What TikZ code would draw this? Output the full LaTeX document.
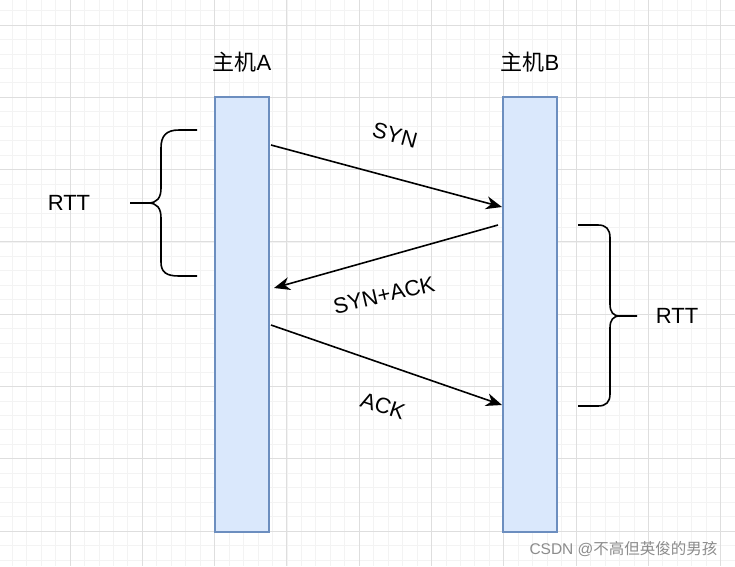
\documentclass[tikz,border=0pt]{standalone}
\usepackage{fontspec}
\setmainfont{Liberation Sans}
\newfontfamily\cjk{Noto Sans CJK SC}
\usetikzlibrary{arrows.meta}

\definecolor{hostfill}{HTML}{DAE8FC}
\definecolor{hostline}{HTML}{6C8EBF}
\definecolor{gridmajor}{HTML}{DEDEDE}
\definecolor{gridminor}{HTML}{F3F3F3}
\definecolor{markgray}{HTML}{8C8C8C}

\tikzset{
	host/.style={draw=hostline, fill=hostfill, line width=1.5pt, minimum width=54pt, minimum height=435pt, inner sep=0pt},
	msg/.style={line width=1.6pt, -{Stealth[length=16pt, width=13pt, inset=5pt]}},
	bracket/.style={line width=1.6pt},
	lbl/.style={font=\fontsize{22}{26}\selectfont}
}

\begin{document}
\begin{tikzpicture}[x=1pt, y=-1pt]
	\useasboundingbox (0,0) rectangle (735,566);
	\fill [white] (0,0) rectangle (735,566);
	\foreach \k in {1,...,50}
		\draw [gridminor, line width=0.8pt] ({-2.3+14.46*\k},0) -- ++(0,566);
	\foreach \k in {4,...,42}
		\draw [gridminor, line width=0.8pt] (0,{-47.3+14.46*\k}) -- ++(735,0);
	\foreach \k in {1,...,10}
		\draw [gridmajor, line width=1pt] ({-2.3+72.3*\k},0) -- ++(0,566);
	\foreach \k in {1,...,8}
		\draw [gridmajor, line width=1pt] (0,{-47.3+72.3*\k}) -- ++(735,0);

	\node [host] (hostA) at (242,314.5) {};
	\node [host] (hostB) at (530,314.5) {};
	\node [lbl] (titleA) at (242,62) {{\cjk 主机}A};
	\node [lbl] (titleB) at (530,62) {{\cjk 主机}B};

	\coordinate (synFrom) at (271,145);
	\coordinate (synTo) at (502,207);
	\coordinate (synackFrom) at (498,225);
	\coordinate (synackTo) at (274,288);
	\coordinate (ackFrom) at (271,325);
	\coordinate (ackTo) at (502,405);
	\draw [msg] (synFrom) -- (synTo);
	\draw [msg] (synackFrom) -- (synackTo);
	\draw [msg] (ackFrom) -- (ackTo);
	\node [lbl, rotate=-15] (synLbl) at (395,135) {SYN};
	\node [lbl, rotate=13] (synackLbl) at (384,295) {SYN+ACK};
	\node [lbl, rotate=-18] (ackLbl) at (383,406) {ACK};

	\draw [bracket] (197,130) -- (179,130) .. controls (166,130) and (161,136) .. (161,148) -- (161,188)
		.. controls (161,198) and (157,203) .. (148,203) -- (130,203)
		(148,203) .. controls (157,203) and (161,208) .. (161,218) -- (161,262)
		.. controls (161,272) and (166,276) .. (179,276) -- (197,276);
	\node [lbl] (rttL) at (69,203) {RTT};

	\draw [bracket] (578,225) -- (598,225) .. controls (606,225) and (610,229) .. (610,238) -- (610,304)
		.. controls (610,312) and (613,316) .. (620,316) -- (637,316)
		(620,316) .. controls (613,316) and (610,320) .. (610,328) -- (610,394)
		.. controls (610,402) and (606,406) .. (598,406) -- (578,406);
	\node [lbl] (rttR) at (677,316) {RTT};

	\node [anchor=east, text=markgray, font=\fontsize{15.5}{18}\selectfont] (mark) at (721,549) {CSDN @{\cjk 不高但英俊的男孩}};
\end{tikzpicture}
\end{document}
